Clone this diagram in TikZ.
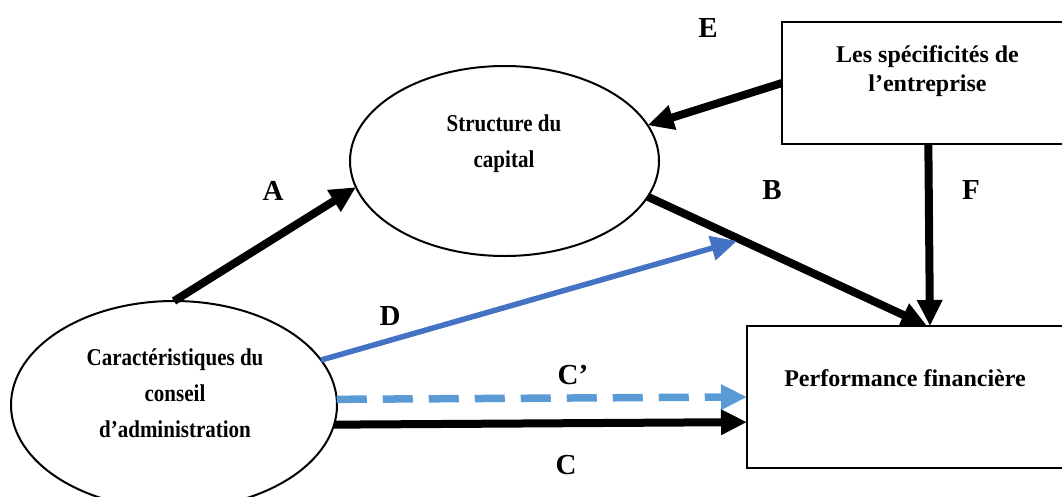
\documentclass[tikz,border=0pt]{standalone}
\usepackage{fontspec}
\setmainfont{Liberation Serif}
\usetikzlibrary{arrows.meta,shapes.geometric}
\definecolor{dblue}{HTML}{4472C4}
\definecolor{lblue}{HTML}{5B9BD5}
\newcommand\tallline[1]{\scalebox{1}[1.15]{#1}}
\begin{document}
\begin{tikzpicture}[x=1pt,y=-1pt,
  ell/.style={draw, ellipse, line width=2pt, inner sep=0pt, outer sep=0pt},
  box/.style={draw, rectangle, line width=2.5pt, inner sep=0pt, outer sep=0pt},
  txtsm/.style={font=\bfseries\fontsize{21}{36}\selectfont, align=center, inner sep=0pt},
  txtbig/.style={font=\bfseries\fontsize{24}{29}\selectfont, align=center, inner sep=0pt},
  lbl/.style={font=\bfseries\fontsize{29}{30}\selectfont, inner sep=0pt},
  tip/.style={-{Triangle[length=26pt,width=24pt]}},
  blk/.style={tip, line width=8pt, black},
  dline/.style={tip, line width=5.5pt, dblue},
  cline/.style={tip, line width=7.5pt, lblue, dash pattern=on 30pt off 16pt}
]
\useasboundingbox (0,0) rectangle (1062,496);
\clip (0,0) rectangle (1062,496);

% shapes
\node[ell, minimum width=309pt, minimum height=190pt] (sc) at (504.5,161) {};
\node[ell, minimum width=326pt, minimum height=208pt] (cb) at (174,405) {};
\node[box, minimum width=282pt, minimum height=122pt] (spec) at (923,83) {};
\node[box, minimum width=317pt, minimum height=142pt] (perf) at (905.5,397) {};

% texts
\node[txtsm] (sct) at (504,144) {\tallline{Structure du}\\\tallline{capital}};
\node[txtsm] (cbt) at (175,393) {\tallline{Caractéristiques du}\\\tallline{conseil}\\\tallline{d’administration}};
\node[txtbig] (spect) at (927.5,71.5) {Les spécificités de\\l’entreprise};
\node[txtbig] (perft) at (905,378) {Performance financière};

% labels
\node[lbl] (le) at (708,28) {E};
\node[lbl] (la) at (273,191) {A};
\node[lbl] (lb) at (772,190) {B};
\node[lbl] (lf) at (971,190) {F};
\node[lbl] (ld) at (390,316) {D};
\node[lbl] (lcp) at (573,375) {C’};
\node[lbl] (lc) at (566,465) {C};

% connectors
\coordinate (dtip) at (737,241);
\draw[blk] (cb.north) -- (sc.190);
\draw[blk] (sc.-14) -- (perf.73);
\draw[blk] (spec.west) -- (sc.14.6);
\draw[blk] (spec.-85) -- (perf.71);
\draw[dline] (cb.17.6) -- (dtip);
\draw[cline] (cb.2) -- (perf.west);
\draw[blk] (cb.-7) -- (perf.189);
\end{tikzpicture}
\end{document}
